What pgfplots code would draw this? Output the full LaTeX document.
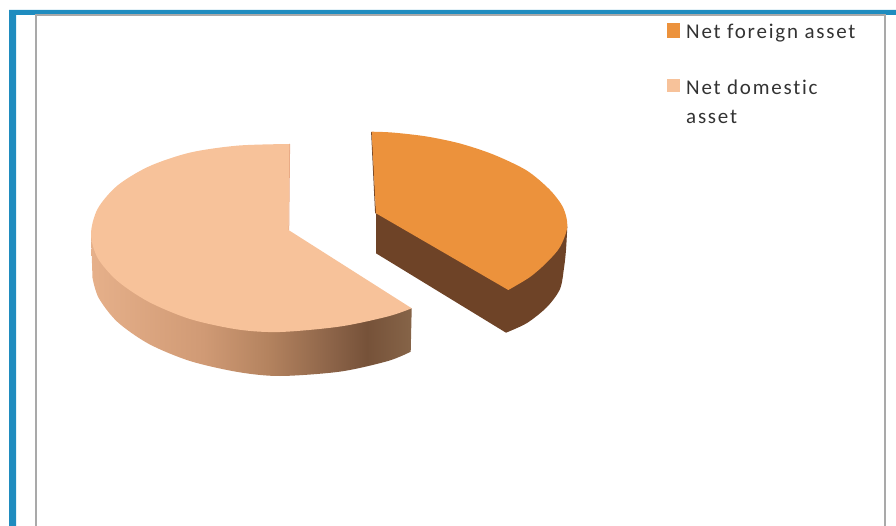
\documentclass[border=0pt]{standalone}
\usepackage{fontspec}
\setmainfont{Carlito}
\usepackage{pgfplots}
\pgfplotsset{compat=1.18}

\definecolor{frameblue}{HTML}{1F8CBF}
\definecolor{framegray}{HTML}{A9A9A9}
\definecolor{foreigntop}{HTML}{EC923C}
\definecolor{foreignside}{HTML}{6E4327}
\definecolor{domestictop}{HTML}{F7C29A}
\definecolor{domesticedge}{HTML}{E8A884}
\definecolor{legendtext}{HTML}{333333}

% Side wall of the domestic slice, lit from the left
\definecolor{sa}{HTML}{E6B08A}
\definecolor{sb}{HTML}{D09A75}
\definecolor{sc}{HTML}{B4835F}
\definecolor{sd}{HTML}{8A6247}
\definecolor{se}{HTML}{765239}
\definecolor{sf}{HTML}{866448}
\pgfdeclarehorizontalshading{domesticwall}{100bp}{
  color(0bp)=(sa); color(25bp)=(sa); color(42.5bp)=(sb); color(52.5bp)=(sc);
  color(63bp)=(sd); color(68bp)=(se); color(75bp)=(sf); color(100bp)=(sf)}

\newcommand{\legendfont}{\fontsize{21}{25}\selectfont\addfontfeatures{LetterSpace=8.4,Ligatures=CommonOff}}

\begin{document}
\begin{tikzpicture}
\begin{axis}[
  scale only axis, width=896pt, height=526pt,
  xmin=0, xmax=896, ymin=0, ymax=526, y dir=reverse,
  hide axis, clip=true,
]
% Window frame
\addplot[draw=none, fill=frameblue] coordinates {(9,526) (9,10) (896,10) (896,15) (16,15) (16,526)} -- cycle;
\addplot[draw=framegray, line width=2pt] coordinates {(36,526) (36,15) (885,15) (885,526)};

% Domestic slice: outer wall, cut edge, top face
\addplot[draw=none, shading=domesticwall, smooth] coordinates {
  (92.5,278) (98.7,298) (117.5,322) (149,344) (190,361) (237.8,372) (280,376)
  (340.2,371.6) (388,361) (410.7,351.7)
} -- (axis cs:411.7,308.3) -- (axis cs:91,234) -- cycle;
\addplot[draw=domesticedge, line width=1pt] coordinates {(289.6,144) (288.7,230)};
\addplot[draw=none, fill=domestictop, smooth] coordinates {
  (289.3,144) (237.8,145.6) (190,152.6) (149,166.4) (117.5,185.5) (97.7,208.7) (91,234)
  (97.7,258) (117.5,281) (149,302) (190,319) (237.8,329.5) (280,332)
  (340.2,326.5) (388,316.4) (411.7,308.3)
} -- (axis cs:288.5,230) -- cycle;

% Foreign slice: walls and top face
\addplot[draw=none, fill=foreignside, smooth] coordinates {
  (567.3,226.7) (566,250) (564,268) (560,289) (547,307) (527,323) (506,332.7)
} -- (axis cs:376,253.3) -- (axis cs:376,213.3) -- cycle;
\addplot[draw=foreignside, line width=1pt] coordinates {(371.6,132) (375.6,213.3)};
\addplot[draw=none, fill=foreigntop, smooth] coordinates {
  (371.7,131.7) (393.3,132.6) (426.7,136.5) (460,143.5) (493.3,154.5) (526.7,170.5)
  (550,190) (563.3,208) (567.3,226.7) (560,247) (546.7,262.5) (530,277) (508.3,290)
} -- (axis cs:376,213.3) -- cycle;

% Legend
\addplot[draw=none, fill=foreigntop] coordinates {(667,23) (680,23) (680,38) (667,38)} -- cycle;
\addplot[draw=none, fill=domestictop] coordinates {(667,79) (680,79) (680,92) (667,92)} -- cycle;
\node[anchor=base west, inner sep=0pt, text=legendtext] at (axis cs:686,38.5) {\legendfont Net foreign asset};
\node[anchor=base west, inner sep=0pt, text=legendtext] at (axis cs:686,94.5) {\legendfont Net domestic};
\node[anchor=base west, inner sep=0pt, text=legendtext] at (axis cs:686,124) {\legendfont asset};
\end{axis}
% Page extent equals the full plot area
\path (0,0) rectangle (896pt,526pt);
\end{tikzpicture}
\end{document}
